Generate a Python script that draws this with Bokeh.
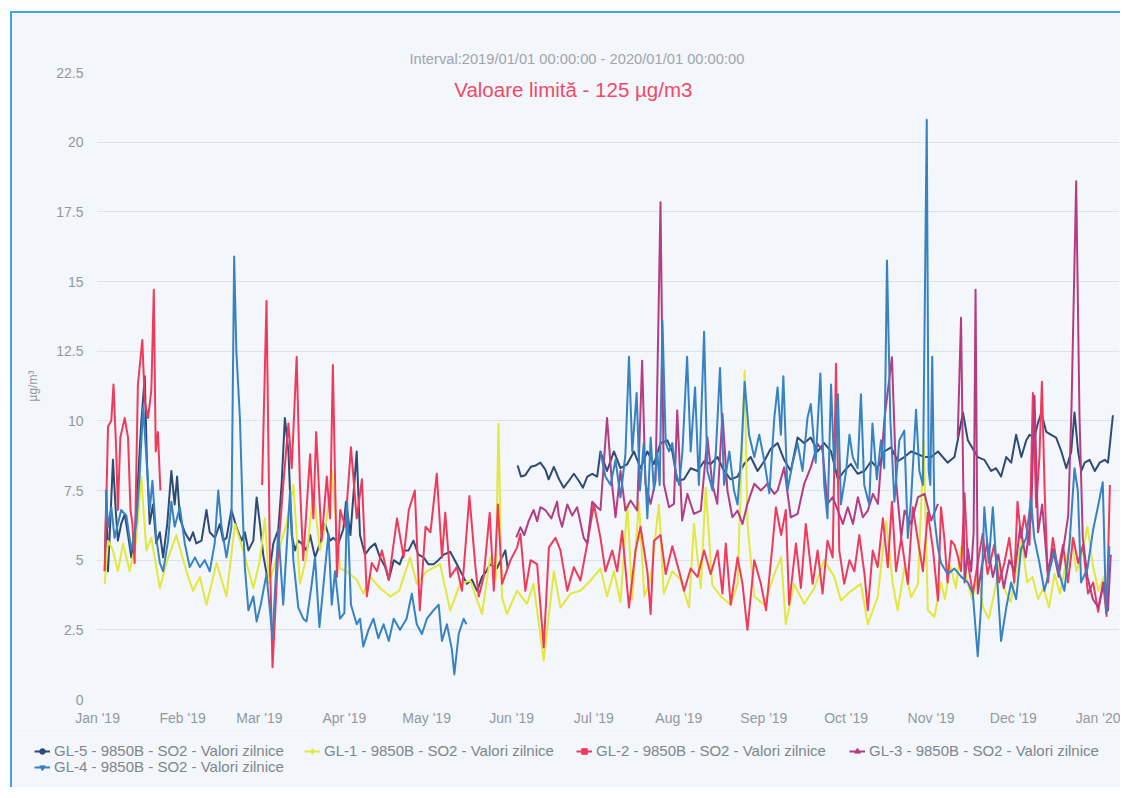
import numpy as np
import pandas as pd
from bokeh.plotting import figure
from bokeh.layouts import row
from bokeh.models import (Range1d, FixedTicker, MonthsTicker, DatetimeTickFormatter,
                          NumeralTickFormatter, Legend, LegendItem, Label, Spacer)
from bokeh.embed import file_html
from bokeh.resources import INLINE

nan = float("nan")

# ---------------- data (day offset from 2019-01-01, value in ug/m3) ----------------
gl5_days = [2.6, 3.2, 3.8, 4.6, 5.6, 6.6, 7.4, 8.6, 9.9, 11.1, 12.3, 13.5, 14.7, 15.9, 17.2, 18.0, 19.0, 20.2,
            21.4, 22.7, 23.9, 25.4, 26.9, 28.1, 29.0, 30.0, 31.8, 33.6, 34.8, 36.0, 37.9, 39.7, 40.9, 42.8, 44.6,
            45.8, 47.0, 48.8, 50.6, 52.5, 53.7, 55.0, 56.8, 58.0, 59.2, 60.4, 62.2, 64.1, 65.9, 67.1, 68.3, 69.6,
            70.8, 72.0, 73.2, 74.4, 76.2, 77.5, 79.3, 81.1, 83.0, 84.8, 86.0, 87.8, 89.6, 90.6, 92.2, 94.5, 95.7,
            97.5, 99.4, 101.2, 103.0, 104.9, 106.2, 108.0, 110.2, 112.0, 113.4, 115.2, 117.0, 118.9, 120.7, 122.5,
            124.3, 126.2, 128.6, 131.0, 132.9, 134.7, 136.5, 138.4, 140.2, 141.8, 143.2, 145.6, 147.5, 148.7,
            149.6, 151.0,
            153.2, 154.4, 156.0, 158.0, 159.8, 161.5, 163.3, 164.5, 166.4, 168.3, 170.0, 171.9, 173.7, 175.5,
            177.0, 178.6, 180.4, 182.2, 183.4, 185.8, 188.3, 190.7, 193.2, 195.6, 198.0, 200.5, 202.9, 205.3,
            207.8, 209.6, 211.4, 213.9, 216.3, 218.8, 221.2, 223.6, 226.1, 228.5, 230.9, 233.4, 235.8, 238.2,
            240.7, 243.1, 245.5, 248.0, 250.4, 252.8, 255.3, 257.7, 260.1, 262.6, 265.0, 267.5, 270.0, 272.3,
            274.7, 277.2, 279.7, 282.1, 284.5, 286.9, 289.4, 291.8, 294.2, 296.7, 299.2, 301.6, 304.0, 306.5,
            310.0, 312.5, 313.7, 315.6, 317.4, 319.2, 321.0, 323.4, 325.9, 327.7, 329.5, 331.4, 333.2, 335.0,
            336.9, 338.7, 339.9, 341.7, 342.9, 344.2, 346.0, 347.8, 349.6, 351.5, 353.3, 355.1, 356.3, 357.6,
            358.8, 360.0, 361.8, 363.7, 365.5, 367.3, 368.5, 370.3]
gl5_vals = [4.6, 7.5, 4.6, 6.3, 8.6, 6.8, 5.7, 6.3, 6.65, 5.9, 5.1, 5.8, 7.8, 9.9, 11.6, 8.5, 6.3, 7.0,
            5.6, 6.0, 5.1, 6.3, 8.2, 7.0, 8.0, 6.5, 6.0, 5.7, 6.0, 5.6, 5.7, 6.8, 6.0, 5.8, 6.3,
            5.7, 5.8, 6.8, 6.2, 5.7, 6.0, 5.35, 5.7, 7.25, 6.3, 5.2, 4.2, 5.6, 6.1, 7.7, 10.1, 8.9,
            5.9, 5.35, 5.7, 5.6, 5.35, 5.9, 5.1, 5.6, 6.3, 5.7, 5.8, 5.6, 6.1, 7.1, 5.9, 8.9, 5.9,
            5.2, 5.45, 5.6, 5.1, 4.75, 4.3, 5.0, 4.85, 5.35, 5.35, 5.7, 5.2, 5.1, 4.85, 4.85,
            5.0, 5.2, 5.3, 4.86, 4.5, 4.15, 4.3, 3.9, 4.4, 4.6, 4.86, 4.7, 5.1, 5.35,
            4.7, nan,
            8.4, 8.0, 8.05, 8.35, 8.4, 8.5, 8.25, 7.9, 8.35, 7.9, 7.6, 7.85, 8.1, 7.85,
            7.6, 8.0, 8.1, 8.0, 8.9, 8.2, 8.9, 8.3, 8.45, 8.9, 8.3, 8.9, 8.45, 9.2,
            9.3, 8.9, 7.85, 7.9, 8.3, 8.2, 8.55, 8.45, 8.7, 8.2, 7.9, 8.0, 8.45, 8.7,
            8.2, 8.55, 9.0, 9.2, 8.6, 8.2, 9.4, 9.2, 9.4, 8.9, 9.2, 8.9, 7.9, 8.2,
            8.45, 8.1, 8.2, 8.55, 8.3, 8.9, 9.05, 8.55, 8.7, 8.9, 8.8, 8.7, 8.7, 8.9,
            8.5, 8.7, 9.3, 10.3, 9.3, 9.0, 8.7, 8.6, 8.2, 8.3, 8.0, 8.7, 8.5, 9.5,
            8.7, 9.3, 9.5, 9.4, 9.9, 10.3, 9.6, 9.5, 9.4, 8.9, 8.3, 8.9, 10.3, 8.9,
            8.2, 8.5, 8.6, 8.2, 8.5, 8.6, 8.5, 10.2]

gl1_days = [2.6, 3.8, 5.6, 7.4, 9.3, 11.7, 14.1, 15.9, 17.8, 19.6, 22.7, 25.1, 28.7, 32.4, 34.8, 37.3, 39.7,
            43.4, 47.0, 50.1, 53.1, 56.8, 59.2, 61.0, 62.5, 64.5, 66.5, 68.9, 71.4, 73.8, 76.2, 78.7, 81.1,
            83.6, 85.4, 88.4, 90.8, 94.5, 96.9, 99.4, 103.0, 106.7, 110.0, 114.0, 116.4, 120.0, 124.9, 128.6,
            132.2, 135.9, 140.2, 143.2, 145.2, 146.2, 147.5, 149.3, 153.0, 156.6, 159.0, 162.7, 166.4, 168.8,
            172.5, 176.1, 179.8, 183.4, 185.8, 188.3, 190.7, 193.2, 195.0, 197.4, 199.4, 201.7, 204.7, 206.5,
            209.6, 212.6, 215.7, 217.5, 220.0, 221.8, 224.2, 227.3, 230.9, 233.4, 236.0, 237.0, 239.5, 243.1,
            246.8, 249.3, 251.0, 254.0, 257.7, 261.4, 265.0, 268.7, 271.1, 274.8, 278.4, 280.9, 284.5, 287.6,
            290.0, 291.8, 294.3, 296.7, 299.2, 301.3, 302.8, 305.2, 307.6, 309.0, 311.0, 313.0, 315.0, 317.0,
            319.0, 321.0, 323.0, 325.0, 327.0, 329.0, 331.0, 333.0, 335.0, 337.0, 339.0, 341.0, 343.0, 345.0,
            347.0, 349.0, 351.0, 353.0, 355.0, 357.0, 359.0, 361.0, 363.0, 365.0, 367.0, 369.0]
gl1_vals = [4.15, 5.7, 5.35, 4.6, 5.6, 4.6, 5.7, 8.0, 5.35, 5.8, 4.0, 4.9, 5.9, 4.6, 3.9, 4.4, 3.4,
            4.9, 3.7, 6.3, 5.35, 4.0, 5.0, 6.5, 4.2, 4.8, 5.5, 6.3, 7.7, 4.15, 5.1, 7.5, 5.35,
            6.5, 8.2, 4.7, 4.6, 4.3, 3.8, 4.4, 4.0, 3.7, 3.9, 5.1, 4.15, 4.6, 4.86, 3.19,
            4.15, 4.27, 3.07, 5.1, 4.3, 9.9, 3.67, 3.07, 3.9, 3.43, 4.15, 1.4, 4.6, 3.3,
            3.8, 3.9, 4.27, 4.7, 3.7, 4.6, 3.5, 7.0, 3.6, 7.1, 3.7, 4.3, 7.0, 3.8,
            4.6, 4.3, 3.3, 6.3, 4.0, 7.6, 4.1, 3.7, 3.4, 4.15, 11.8, 6.3, 3.7, 3.4,
            4.5, 5.1, 2.7, 4.15, 3.43, 4.0, 5.0, 4.4, 3.55, 3.9, 4.15, 2.7, 3.67, 6.4,
            4.15, 3.2, 4.75, 3.67, 4.15, 9.3, 3.2, 2.97, 4.2, 3.6, 4.8, 4.0, 5.5, 4.3,
            3.6, 4.4, 3.3, 2.9, 3.8, 4.9, 3.9, 3.5, 4.6, 5.8, 4.2, 4.4, 3.6, 4.0,
            3.3, 4.5, 3.8, 4.8, 5.9, 4.6, 5.2, 6.2, 4.8, 3.9, 4.4, 3.7]

gl2_days = [2.6, 3.8, 5.0, 5.8, 6.8, 7.4, 8.3, 9.9, 11.1, 12.0, 12.7, 13.5, 14.7, 16.3, 17.2, 18.4, 19.6,
            20.5, 21.2, 22.0, 22.9, 23.5,
            60.0, 61.6, 62.8, 63.8, 65.9, 67.7, 69.6, 70.8, 72.6, 73.8, 75.0, 77.5, 78.7, 79.7, 81.7, 83.6,
            84.8, 85.8, 87.3, 88.5, 90.3, 92.4, 94.5, 96.4, 98.2, 100.0, 101.9, 103.7, 106.2, 109.2, 111.6,
            113.5, 115.7, 117.5, 119.6, 121.4, 123.7, 125.6, 126.8, 128.6, 131.0, 132.9, 135.6, 137.8, 139.0,
            140.8, 143.0, 144.5, 146.0, 147.5, 150.6, 153.0, 154.2, 156.0, 157.9, 160.3, 162.7, 164.6, 167.0,
            168.8, 171.3, 173.7, 176.1, 178.6, 181.0, 183.4, 185.2, 187.7, 189.5, 191.3, 193.8, 196.2, 198.0,
            200.5, 201.7, 202.9, 205.3, 207.2, 209.6, 212.1, 213.9, 216.3, 218.8, 221.2, 223.6, 226.1, 227.9,
            229.1, 230.9, 233.4, 235.2, 237.0, 239.5, 241.9, 243.8, 246.2, 247.4, 249.3, 251.0, 252.2, 254.7,
            256.5, 258.3, 260.8, 262.6, 264.4, 266.2, 268.1, 269.3, 270.5, 272.3, 274.2, 276.0, 277.8, 279.7,
            280.9, 282.7, 284.5, 286.4, 288.2, 289.7, 291.2, 293.1, 295.5, 297.3, 299.2, 301.0, 302.8, 304.7,
            306.5, 307.6, 308.8, 310.0, 311.3, 312.5, 313.7, 314.9, 316.2, 317.4, 319.2, 321.0, 322.8, 324.6,
            327.0, 328.8, 330.7, 332.5, 334.3, 335.5, 336.8, 338.0, 339.9, 341.1, 342.3, 343.5, 344.4, 345.4,
            346.6, 348.4, 350.3, 352.1, 353.9, 355.8, 357.6, 359.4, 361.2, 363.1, 364.9, 366.7, 368.0, 369.2]
gl2_vals = [4.6, 9.8, 10.0, 11.3, 8.9, 6.8, 9.4, 10.1, 9.4, 6.8, 6.3, 4.9, 11.3, 12.9, 10.7, 10.1, 11.1,
            14.7, 8.9, 9.6, 7.5, nan,
            7.7, 14.3, 5.35, 1.16, 5.35, 7.7, 9.9, 8.3, 12.3, 7.7, 5.0, 8.8, 6.5, 9.6, 5.7, 8.0,
            6.5, 12.0, 4.4, 6.8, 6.2, 9.05, 6.5, 7.9, 3.7, 4.9, 4.6, 5.35, 4.3, 6.5, 5.1,
            6.8, 7.5, 3.2, 6.2, 6.0, 8.1, 5.1, 6.7, 4.4, 4.75, 3.9, 7.3, 4.75, 3.7,
            4.4, 6.7, 3.9, 7.0, 4.15, 5.0, 5.46, 5.95, 3.9, 5.0, 4.86, 1.87, 5.46, 5.8,
            5.35, 3.9, 4.75, 4.27, 5.6, 7.0, 5.8, 4.6, 5.35, 4.6, 6.05, 3.3, 5.35, 6.2,
            4.6, 3.07, 5.7, 5.9, 4.5, 5.5, 4.6, 3.9, 4.7, 4.4, 5.35, 4.5, 5.35, 3.8,
            5.6, 3.4, 5.1, 4.15, 2.5, 5.0, 4.15, 3.2, 5.6, 6.9, 5.9, 6.8, 3.4, 5.6,
            4.0, 6.3, 4.15, 5.35, 3.8, 5.7, 5.1, 12.05, 5.35, 4.15, 5.0, 4.6, 5.9, 4.5,
            3.2, 5.35, 4.75, 6.5, 4.75, 7.1, 4.6, 5.8, 4.15, 6.9, 5.7, 4.6, 6.7, 5.35,
            3.55, 6.9, 5.8, 4.2, 5.7, 5.55, 5.15, 4.6, 7.4, 4.9, 3.8, 4.9, 5.95, 4.5,
            5.55, 4.2, 4.9, 5.8, 4.2, 7.1, 5.8, 6.6, 5.55, 11.0, 6.9, 8.7, 11.4, 7.5,
            4.2, 5.8, 4.6, 5.55, 4.2, 5.8, 4.9, 5.55, 3.8, 4.2, 3.15, 4.2, 3.0, 7.7]

gl3_days = [152.7, 154.2, 155.6, 157.2, 159.0, 160.3, 161.5, 163.3, 165.5, 167.6, 168.2, 169.4, 171.3, 173.1,
            174.9, 177.3, 178.6, 180.4, 182.2, 183.4, 185.8, 187.6, 188.9, 190.7, 192.5, 194.4, 196.8, 198.6,
            199.8, 201.7, 203.5, 205.3, 206.5, 208.4, 210.2, 211.4, 213.2, 215.1, 217.5, 220.0, 222.4, 224.2,
            226.0, 227.9, 229.7, 231.5, 233.4, 235.2, 237.0, 239.5, 241.9, 244.3, 246.8, 248.0, 250.4, 252.8,
            255.3, 257.7, 260.1, 262.6, 264.4, 266.2, 268.1, 270.0, 271.8, 273.6, 275.5, 277.3, 279.1, 280.9,
            282.8, 284.6, 287.0, 289.7, 291.3, 293.1, 294.3, 296.7, 299.2, 301.6, 304.0, 306.5, 310.0,
            313.7, 314.9, 316.2, 317.4, 318.6, 319.5, 320.2, 321.0, 322.5, 324.5, 326.5, 328.5, 330.5, 332.5,
            334.5, 336.5, 338.5, 340.5, 341.7, 343.0, 344.5, 346.5, 348.5, 350.5, 352.5, 354.0, 355.2, 356.9,
            358.1, 359.3, 361.0, 363.0, 365.0, 367.0, 368.5, 369.5]
gl3_vals = [5.82, 6.18, 5.9, 6.4, 6.8, 6.4, 6.9, 6.8, 6.5, 7.1, 6.6, 6.2, 7.0, 6.6,
            6.9, 5.8, 5.6, 7.1, 6.9, 6.8, 10.1, 7.74, 6.54, 8.2, 6.78, 7.14, 6.78, 12.16,
            7.74, 7.02, 7.86, 17.84, 7.74, 6.9, 7.02, 10.37, 6.42, 7.38, 6.66, 6.78, 9.41, 7.74,
            7.02, 10.25, 7.5, 6.54, 6.78, 6.3, 7.02, 7.74, 7.5, 7.74, 7.38, 7.5, 8.33, 6.54,
            6.66, 7.74, 8.33, 9.17, 8.93, 7.02, 7.26, 6.78, 6.3, 6.9, 6.3, 7.26, 6.54, 6.78,
            7.38, 7.02, 10.1, 12.28, 7.74, 5.82, 6.78, 6.3, 7.26, 7.38, 6.42, 7.02, nan,
            9.4, 13.7, 4.2, 5.4, 4.6, 6.0, 14.7, 3.8, 4.8, 5.6, 4.4, 5.2, 4.0, 5.0,
            4.6, 6.2, 5.1, 6.6, 10.9, 6.0, 7.0, 4.6, 5.4, 4.4, 5.6, 6.6, 10.5, 18.6,
            10.2, 5.8, 4.4, 3.6, 3.3, 4.2, 3.2, 5.2]

gl4_days = [3.0, 3.8, 5.0, 6.2, 8.6, 10.5, 12.3, 14.1, 15.3, 16.6, 17.8, 19.0, 20.0, 21.4, 22.7, 23.9, 25.7,
            26.9, 28.1, 30.0, 31.8, 33.6, 35.5, 37.3, 39.1, 40.9, 42.7, 44.0, 45.2, 47.0, 48.8, 49.8, 50.6,
            51.9, 52.9, 53.7, 55.0, 56.8, 58.0, 59.5, 61.6, 63.8, 65.9, 67.7, 70.2, 71.4, 73.2, 75.0, 76.2,
            78.1, 79.3, 80.9, 83.0, 84.2, 85.4, 86.6, 88.4, 90.0, 91.0, 92.4, 94.5, 95.7, 96.9, 98.8, 100.6,
            102.4, 104.3, 106.2, 108.0, 110.3, 112.7, 114.6, 116.4, 118.3, 120.1, 122.5, 124.4, 125.6, 127.4,
            129.2, 130.1, 131.7, 133.5, 134.5, 136.0,
            183.4, 185.2, 187.1, 188.9, 190.7, 192.5, 193.8, 195.0, 196.6, 197.8, 199.2, 200.5, 201.7, 202.9,
            204.1, 205.0, 206.0, 207.2, 208.4, 209.6, 210.8, 212.1, 213.3, 215.0, 216.3, 217.9, 219.3, 221.2,
            222.4, 224.3, 225.5, 227.0, 228.5, 230.4, 232.1, 233.4, 234.8, 236.0, 237.6, 239.5, 241.3, 243.1,
            245.0, 246.8, 248.0, 249.2, 250.1, 251.6, 253.5, 255.3, 257.1, 258.9, 260.1, 261.9, 263.6, 265.0,
            266.2, 267.5, 268.7, 270.0, 271.1, 273.0, 274.2, 275.4, 277.2, 278.4, 279.6, 281.4, 282.6, 284.2,
            285.7, 286.9, 287.9, 289.1, 290.6, 292.4, 294.2, 295.5, 296.7, 298.5, 299.7, 301.0, 302.4, 303.1,
            303.7, 304.4, 305.2, 306.4, 307.6, 310.0, 312.5, 315.0, 317.4, 319.2, 321.0, 322.2, 323.4, 325.0,
            326.5, 328.3, 329.5, 331.4, 333.2, 335.0, 336.8, 338.7, 340.4, 341.6, 343.5, 345.3, 347.1, 348.9,
            350.8, 352.6, 354.4, 356.3, 357.5, 358.7, 361.0, 363.1, 364.8, 366.6, 367.8, 369.0]
gl4_vals = [7.5, 6.2, 6.9, 5.8, 6.8, 6.6, 5.35, 6.3, 8.0, 10.5, 8.7, 6.8, 7.85, 5.8, 4.9, 4.6, 5.7,
            7.1, 6.2, 6.9, 5.6, 4.75, 5.1, 4.75, 5.0, 4.6, 5.6, 7.5, 6.2, 5.1, 6.2, 15.9, 12.5,
            10.1, 6.8, 4.75, 3.2, 3.7, 2.8, 3.4, 4.5, 2.2, 6.1, 3.4, 7.5, 5.0, 3.3, 2.9, 2.8,
            4.15, 5.1, 2.6, 4.75, 5.95, 3.4, 4.6, 2.9, 3.1, 7.1, 3.4, 2.7, 2.9, 1.9, 2.5, 2.9,
            2.2, 2.7, 2.1, 2.9, 2.5, 2.9, 3.8, 2.7, 2.35, 2.9, 3.2, 3.4, 2.1, 2.7,
            1.8, 0.9, 2.35, 2.9, 2.7, nan,
            8.9, 8.0, 7.7, 8.6, 7.25, 8.8, 12.3, 8.9, 11.0, 7.5, 9.2, 6.5, 9.4, 7.5,
            8.9, 7.7, 13.6, 9.2, 8.9, 9.2, 8.2, 7.7, 8.9, 12.3, 8.9, 11.2, 7.7, 13.2,
            8.2, 7.5, 8.9, 11.9, 7.7, 8.9, 7.5, 7.0, 8.9, 11.4, 9.5, 8.7, 9.5, 8.6,
            7.4, 10.1, 11.2, 9.5, 11.6, 7.5, 8.5, 9.2, 8.2, 10.1, 10.6, 8.5, 11.7, 7.7,
            6.5, 11.3, 8.2, 10.95, 7.0, 8.2, 9.5, 8.7, 8.3, 10.95, 7.7, 7.0, 9.9, 7.9,
            9.3, 8.3, 15.75, 10.1, 7.1, 9.3, 9.65, 5.8, 7.2, 10.4, 8.2, 7.7, 20.8, 8.2,
            7.7, 12.3, 6.5, 5.5, 4.9, 4.5, 4.7, 4.4, 4.2, 3.8, 1.55, 3.3, 6.9, 4.9,
            6.9, 4.0, 2.1, 3.3, 4.2, 3.6, 5.4, 5.8, 7.2, 5.8, 4.9, 3.9, 4.6, 5.3,
            4.5, 3.9, 5.5, 8.3, 7.5, 4.2, 4.7, 6.1, 6.9, 7.8, 3.1, 5.5]

y_ticks = [0, 2.5, 5, 7.5, 10, 12.5, 15, 17.5, 20, 22.5]

series_names = ["GL-5 - 9850B - SO2 - Valori zilnice", "GL-1 - 9850B - SO2 - Valori zilnice",
                "GL-2 - 9850B - SO2 - Valori zilnice", "GL-3 - 9850B - SO2 - Valori zilnice",
                "GL-4 - 9850B - SO2 - Valori zilnice"]

# ---------------- styling ----------------
FONT = "Liberation Sans"
BG = "#f3f6fa"
GRID = "#dde2e9"
TXT = "#9398a0"
LEG = "#80858e"
BORDER = "2px solid #3ba7e2"
COLORS = ["#2f4b75", "#e2e83c", "#f03a5c", "#b43c82", "#3682c2"]
MARKERS = ["circle", "diamond", "square", "triangle", "inverted_triangle"]

BASE = pd.Timestamp("2019-01-01")


def to_dt(days):
    return BASE + pd.to_timedelta(np.asarray(days, dtype=float), unit="D")


def ms(day):
    return (BASE + pd.Timedelta(days=day)).value / 1e6


W = 1110
p = figure(width=W, height=722, x_axis_type="datetime", output_backend="svg",
           toolbar_location=None,
           x_range=Range1d(ms(-0.4), ms(372.7)), y_range=Range1d(0, 22.5),
           min_border_left=84, min_border_right=3, min_border_top=59, min_border_bottom=36)
p.styles = {"border-top": BORDER, "border-left": BORDER}
p.background_fill_color = BG
p.border_fill_color = BG
p.outline_line_color = None

p.title.text = "Interval:2019/01/01 00:00:00 - 2020/01/01 00:00:00"
p.title.align = "left"
p.title.offset = 313
p.title.standoff = 12
p.title.text_font = FONT
p.title.text_font_size = "14.7px"
p.title.text_font_style = "normal"
p.title.text_color = "#a0a5ad"

p.xgrid.grid_line_color = None
p.ygrid.grid_line_color = GRID
p.ygrid.ticker = FixedTicker(ticks=y_ticks)

p.yaxis.ticker = FixedTicker(ticks=y_ticks)
p.yaxis.formatter = NumeralTickFormatter(format="0.[0]")
p.xaxis.ticker = MonthsTicker(months=list(range(12)))
p.xaxis.formatter = DatetimeTickFormatter(days="%b '%y", months="%b '%y", years="%b '%y")

for ax in (p.xaxis[0], p.yaxis[0]):
    ax.axis_line_color = None
    ax.major_tick_line_color = None
    ax.minor_tick_line_color = None
    ax.major_tick_out = 0
    ax.major_tick_in = 0
    ax.minor_tick_out = 0
    ax.major_label_text_color = TXT
    ax.major_label_text_font = FONT
    ax.major_label_text_font_size = "14px"
p.yaxis.major_label_standoff = 13
p.xaxis.major_label_standoff = 10
p.yaxis.axis_label = "µg/m³"
p.yaxis.axis_label_text_font = FONT
p.yaxis.axis_label_text_font_size = "12px"
p.yaxis.axis_label_text_font_style = "normal"
p.yaxis.axis_label_text_color = TXT
p.yaxis.axis_label_standoff = 13

all_days = [gl5_days, gl1_days, gl2_days, gl3_days, gl4_days]
all_vals = [gl5_vals, gl1_vals, gl2_vals, gl3_vals, gl4_vals]

for d, v, c in zip(all_days, all_vals, COLORS):
    p.line(x=to_dt(d), y=np.asarray(v, dtype=float), line_color=c, line_width=2.0,
           line_join="round")

p.add_layout(Label(x=ms(173.5), y=21.89, text="Valoare limită - 125 µg/m3",
                   text_align="center", text_baseline="middle", text_font=FONT,
                   text_font_size="20.5px", text_color="#f04a68"))

# ---------------- legend strip (separate canvas under the chart) ----------------
LH = 54
lf = figure(width=W, height=LH, output_backend="svg", toolbar_location=None,
            x_range=Range1d(0, 1), y_range=Range1d(0, 1),
            min_border_left=0, min_border_right=0, min_border_top=0, min_border_bottom=0)
lf.styles = {"border-left": BORDER}
lf.axis.visible = False
lf.grid.visible = False
lf.outline_line_color = None
lf.background_fill_color = BG
lf.border_fill_color = BG

leg_pos = [(22, 28), (292, 28), (564, 28), (837, 28), (22, 12)]
for i, (xo, yo) in enumerate(leg_pos):
    lr = lf.line(x=[0, 1], y=[nan, nan], line_color=COLORS[i], line_width=2.0)
    mr = lf.scatter(x=[0], y=[nan], marker=MARKERS[i], size=8, fill_color=COLORS[i],
                    line_color=COLORS[i])
    lg = Legend(items=[LegendItem(label=series_names[i], renderers=[lr, mr])],
                location=(xo, yo), orientation="horizontal", padding=0, margin=0, spacing=0,
                glyph_width=16, glyph_height=14, label_height=14, label_standoff=4,
                label_text_font=FONT, label_text_font_size="15px", label_text_color=LEG,
                background_fill_alpha=0, border_line_color=None)
    lf.add_layout(lg)

roots = [Spacer(width=10, height=11), row(Spacer(width=10), p), row(Spacer(width=10), lf)]
open("out.html", "w").write(file_html(roots, INLINE))
